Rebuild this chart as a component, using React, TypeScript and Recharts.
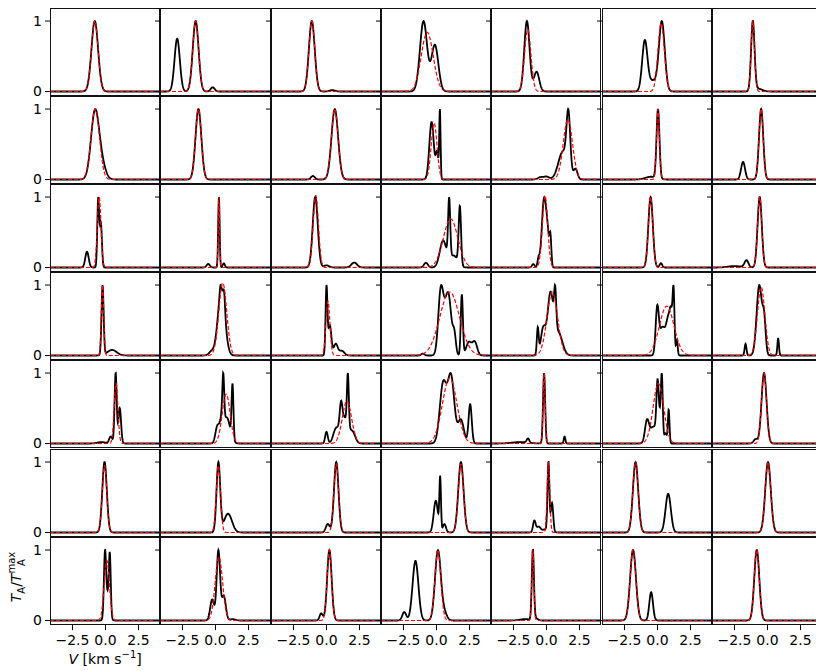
import { LineChart, Line, XAxis, YAxis } from 'recharts'

// [amplitude, centre (km/s), sigma (km/s)]
type Peak = [number, number, number]

// velocity channels shared by every spectrum
const V_MIN = -4.2
const V_MAX = 4.15
const V_STEP = 0.02
const VELOCITY: number[] = Array.from(
  { length: Math.round((V_MAX - V_MIN) / V_STEP) + 1 },
  (_, i) => Number((V_MIN + i * V_STEP).toFixed(3)),
)

const Y_MIN = -0.065
const Y_MAX = 1.185
const X_TICKS = [-2.5, 0, 2.5]
const Y_TICKS = [0, 1]

// observed line components per panel, row by row (left to right)
const ROW1_LINES: Peak[][] = [
  [[1, -0.81, 0.25]],
  [[1, -1.5, 0.22], [0.75, -2.9, 0.2], [0.06, -0.21, 0.15]],
  [[1, -1.11, 0.22], [0.02, 0.44, 0.2]],
  [[1, -0.98, 0.27], [0.66, -0.12, 0.26]],
  [[1, -1.48, 0.2], [0.28, -0.75, 0.2]],
  [[1, 0.33, 0.22], [0.72, -0.96, 0.2], [0.15, -0.35, 0.3]],
  [[1, -1.11, 0.13], [0.04, -0.7, 0.3]],
]
const ROW1_FITS: Peak[] = [
  [1, -0.81, 0.25],
  [1, -1.5, 0.22],
  [1, -1.11, 0.22],
  [0.84, -0.7, 0.45],
  [0.88, -1.42, 0.24],
  [0.97, 0.28, 0.24],
  [1, -1.11, 0.13],
]

const ROW2_LINES: Peak[][] = [
  [[1, -0.8, 0.3], [0.22, -0.3, 0.3]],
  [[1, -1.29, 0.22]],
  [[1, 0.63, 0.25], [0.05, -1.03, 0.15]],
  [[0.85, -0.37, 0.17], [1, 0.26, 0.05], [0.38, 0.05, 0.1]],
  [[1, 1.66, 0.14], [0.5, 1.25, 0.35], [0.18, 2.2, 0.15], [0.04, -0.45, 0.2], [0.05, 0.0, 0.2]],
  [[1, 0.04, 0.11], [0.04, -0.5, 0.4]],
  [[1, -0.48, 0.16], [0.25, -1.85, 0.15]],
]
const ROW2_FITS: Peak[] = [
  [1, -0.77, 0.32],
  [1, -1.29, 0.22],
  [1, 0.63, 0.25],
  [0.8, -0.18, 0.22],
  [0.85, 1.62, 0.35],
  [1, 0.04, 0.11],
  [1, -0.48, 0.16],
]

const ROW3_LINES: Peak[][] = [
  [[1, -0.55, 0.07], [0.65, -0.35, 0.08], [0.23, -1.4, 0.13]],
  [[1, 0.26, 0.055], [0.05, -0.55, 0.12], [0.06, 0.63, 0.08]],
  [[1, -0.85, 0.19], [0.07, 2.1, 0.22], [0.03, 0.0, 0.2]],
  [[1, 0.96, 0.08], [0.98, 1.77, 0.09], [0.45, 0.5, 0.25], [0.08, -0.8, 0.15], [0.2, 1.3, 0.3]],
  [[1, -0.18, 0.17], [0.35, 0.1, 0.12], [0.4, 0.3, 0.07], [0.05, -1.0, 0.1], [0.12, -0.6, 0.08]],
  [[1, -0.52, 0.17], [0.06, 0.26, 0.1]],
  [[1, -0.59, 0.16], [0.1, -1.59, 0.15], [0.02, -2.5, 0.5]],
]
const ROW3_FITS: Peak[] = [
  [1, -0.48, 0.14],
  [1, 0.26, 0.055],
  [1.02, -0.81, 0.2],
  [0.69, 1.07, 0.55],
  [1.02, -0.11, 0.2],
  [1, -0.52, 0.17],
  [1, -0.59, 0.16],
]

const ROW4_LINES: Peak[][] = [
  [[1, -0.22, 0.08], [0.08, 0.5, 0.35]],
  [[0.85, 0.45, 0.27], [0.2, 0.66, 0.07], [0.1, 0.37, 0.06], [0.05, -0.3, 0.2]],
  [[1, 0.0, 0.07], [0.45, 0.25, 0.12], [0.17, 0.7, 0.15], [0.07, 1.15, 0.2]],
  [[0.75, 0.3, 0.18], [0.7, 0.95, 0.2], [0.55, 0.6, 0.25], [0.3, 1.35, 0.12], [0.92, 1.92, 0.08], [0.2, 2.45, 0.2], [0.2, 2.9, 0.18], [0.03, -1.03, 0.12]],
  [[0.5, 0.66, 0.08], [0.8, 0.3, 0.22], [0.3, 0.9, 0.3], [0.35, -0.66, 0.07], [0.35, -0.25, 0.18]],
  [[0.6, -0.02, 0.12], [0.5, 0.85, 0.2], [0.3, 1.05, 0.1], [0.75, 1.22, 0.07], [0.2, 1.47, 0.06], [0.35, 0.35, 0.2]],
  [[0.9, -0.62, 0.2], [0.4, -0.25, 0.12], [0.15, -1.66, 0.07], [0.22, 0.81, 0.06]],
]
const ROW4_FITS: Peak[] = [
  [1, -0.22, 0.09],
  [1.03, 0.55, 0.3],
  [0.77, 0.11, 0.15],
  [0.9, 1.0, 0.75],
  [0.9, 0.44, 0.4],
  [0.7, 0.7, 0.55],
  [0.97, -0.48, 0.28],
]

const ROW5_LINES: Peak[][] = [
  [[1, 0.77, 0.08], [0.5, 1.08, 0.1], [0.1, 0.4, 0.12], [0.02, -0.3, 0.3]],
  [[0.8, 0.59, 0.07], [0.94, 1.29, 0.07], [0.45, 0.85, 0.25], [0.3, 0.15, 0.15], [0.3, 0.45, 0.12]],
  [[0.8, 1.62, 0.07], [0.35, 1.1, 0.1], [0.4, 1.35, 0.3], [0.18, 0.0, 0.1], [0.2, 0.7, 0.2], [0.15, 2.0, 0.2]],
  [[0.75, 0.5, 0.25], [0.85, 1.1, 0.25], [0.3, 1.85, 0.22], [0.5, 2.55, 0.12]],
  [[1, -0.18, 0.08], [0.1, 1.37, 0.06], [0.06, -1.4, 0.1], [0.02, -2.0, 0.6]],
  [[0.3, -0.8, 0.15], [0.6, 0.0, 0.08], [0.85, 0.33, 0.07], [0.5, 0.85, 0.06], [0.25, -0.3, 0.3], [0.35, 0.15, 0.15], [0.15, 0.62, 0.1]],
  [[1, -0.26, 0.19], [0.06, -0.9, 0.15]],
]
const ROW5_FITS: Peak[] = [
  [0.85, 0.8, 0.14],
  [0.7, 0.81, 0.3],
  [0.6, 1.55, 0.35],
  [0.93, 1.0, 0.55],
  [1, -0.18, 0.08],
  [0.85, 0.07, 0.4],
  [1, -0.26, 0.19],
]

const ROW6_LINES: Peak[][] = [
  [[1, -0.07, 0.17]],
  [[1, 0.22, 0.14], [0.27, 0.95, 0.3]],
  [[1, 0.74, 0.17], [0.12, 0.1, 0.15]],
  [[1, 1.85, 0.2], [0.75, 0.28, 0.06], [0.45, -0.05, 0.16], [0.12, 0.6, 0.12]],
  [[1, 0.15, 0.07], [0.42, 0.42, 0.09], [0.17, -0.92, 0.1], [0.08, -0.6, 0.15], [0.05, 0.0, 0.3]],
  [[1, -1.66, 0.2], [0.55, 0.81, 0.2]],
  [[1, 0.04, 0.21]],
]
const ROW6_FITS: Peak[] = [
  [0.95, -0.07, 0.17],
  [0.95, 0.22, 0.16],
  [0.97, 0.74, 0.18],
  [0.97, 1.85, 0.2],
  [1, 0.15, 0.1],
  [1, -1.66, 0.2],
  [1, 0.04, 0.21],
]

const ROW7_LINES: Peak[][] = [
  [[0.95, -0.04, 0.08], [0.9, 0.33, 0.07], [0.4, 0.15, 0.15]],
  [[1, 0.22, 0.13], [0.3, -0.25, 0.15], [0.35, 0.63, 0.15], [0.02, 1.3, 0.2]],
  [[1, 0.22, 0.17], [0.1, -0.4, 0.12]],
  [[1, 0.11, 0.22], [0.85, -1.59, 0.22], [0.12, -2.44, 0.15], [0.1, 0.6, 0.2]],
  [[1, -1.03, 0.08], [0.02, -1.6, 0.4], [0.03, -0.8, 0.15]],
  [[1, -1.85, 0.22], [0.4, -0.48, 0.14]],
  [[1, -0.81, 0.19]],
]
const ROW7_FITS: Peak[] = [
  [0.85, 0.1, 0.2],
  [0.9, 0.26, 0.28],
  [1, 0.22, 0.17],
  [1, 0.11, 0.22],
  [1, -1.03, 0.08],
  [1, -1.85, 0.22],
  [1, -0.81, 0.19],
]

const LINES = [ROW1_LINES, ROW2_LINES, ROW3_LINES, ROW4_LINES, ROW5_LINES, ROW6_LINES, ROW7_LINES]
const FITS = [ROW1_FITS, ROW2_FITS, ROW3_FITS, ROW4_FITS, ROW5_FITS, ROW6_FITS, ROW7_FITS]

// grid geometry (px)
const LEFT = 50
const TOP = 8
const PANEL_W = 110.3
const PANEL_H = 88.1
const AXIS_W = 50
const AXIS_H = 40
const FONT = "'DejaVu Sans', sans-serif"

const gauss = (v: number, [a, c, s]: Peak) => a * Math.exp(-0.5 * ((v - c) / s) ** 2)

function buildPanel(lines: Peak[], fit: Peak) {
  const raw = VELOCITY.map(v => lines.reduce((sum, p) => sum + gauss(v, p), 0))
  const peak = Math.max(...raw)
  return VELOCITY.map((v, i) => ({ v, line: raw[i] / peak, fit: gauss(v, fit) }))
}

const fmtX = (v: number) => v.toFixed(1).replace('-', '\u2212')
const tickStyle = { fontSize: 14, fontFamily: FONT, fill: '#000' }

function Panel({ row, col }: { row: number; col: number }) {
  const data = buildPanel(LINES[row][col], FITS[row][col])
  const bottom = row === LINES.length - 1
  const first = col === 0
  const left = LEFT + col * PANEL_W
  const top = TOP + row * PANEL_H

  // every chart keeps room below the plot so tick labels are never clipped
  return (
    <>
      <div style={{ position: 'absolute', left: left - AXIS_W, top }}>
        <LineChart
          width={PANEL_W + AXIS_W}
          height={PANEL_H + AXIS_H}
          data={data}
          margin={{ top: 0, right: 0, bottom: 0, left: 0 }}
        >
          <XAxis
            dataKey="v"
            type="number"
            domain={[V_MIN, V_MAX]}
            allowDataOverflow
            ticks={X_TICKS}
            interval={0}
            tickFormatter={fmtX}
            height={AXIS_H}
            axisLine={false}
            tickLine={bottom}
            tick={bottom ? tickStyle : false}
            tickSize={5}
            tickMargin={5}
            stroke="#000"
          />
          <YAxis
            type="number"
            domain={[Y_MIN, Y_MAX]}
            allowDataOverflow
            ticks={Y_TICKS}
            interval={0}
            tickFormatter={(v: number) => (first ? String(v) : '')}
            width={AXIS_W}
            axisLine={false}
            tickSize={5}
            tickMargin={3}
            stroke="#000"
            tick={tickStyle}
          />
          <Line
            dataKey="line"
            type="linear"
            stroke="#000"
            strokeWidth={1.8}
            dot={false}
            isAnimationActive={false}
          />
          <Line
            dataKey="fit"
            type="linear"
            stroke="#ff0000"
            strokeWidth={1.2}
            strokeDasharray="4 2"
            dot={false}
            isAnimationActive={false}
          />
        </LineChart>
      </div>
      <div
        style={{
          position: 'absolute',
          left,
          top,
          width: PANEL_W,
          height: PANEL_H,
          border: '1px solid #111',
          boxSizing: 'border-box',
          pointerEvents: 'none',
        }}
      />
    </>
  )
}

export default function App() {
  const cells: { row: number; col: number }[] = []
  LINES.forEach((r, row) => r.forEach((_, col) => cells.push({ row, col })))

  return (
    <div
      style={{
        position: 'absolute',
        left: 0,
        top: 0,
        width: 816,
        height: 671,
        overflow: 'hidden',
        background: '#fff',
        fontFamily: FONT,
        color: '#000',
      }}
    >
      {cells.map(c => (
        <Panel key={`${c.row}-${c.col}`} row={c.row} col={c.col} />
      ))}

      {/* x-axis label under the bottom-left panel */}
      <div
        style={{
          position: 'absolute',
          left: LEFT,
          top: 649,
          width: PANEL_W,
          textAlign: 'center',
          fontSize: 14,
          lineHeight: '20px',
          whiteSpace: 'nowrap',
        }}
      >
        <span style={{ fontStyle: 'italic' }}>V</span> [km s
        <sup style={{ fontSize: 10, lineHeight: 0, verticalAlign: 'super' }}>{'\u22121'}</sup>]
      </div>

      {/* y-axis label beside the bottom-left panel */}
      <div
        style={{
          position: 'absolute',
          left: 15.5 - 60,
          top: 577 - 10,
          width: 120,
          height: 20,
          lineHeight: '20px',
          textAlign: 'center',
          fontSize: 14,
          whiteSpace: 'nowrap',
          transform: 'rotate(-90deg)',
        }}
      >
        <span style={{ fontStyle: 'italic' }}>T</span>
        <sub style={{ fontSize: 10, lineHeight: 0 }}>A</sub>/
        <span style={{ fontStyle: 'italic' }}>T</span>
        <span style={{ display: 'inline-flex', flexDirection: 'column', fontSize: 10, lineHeight: '10px', verticalAlign: 'middle' }}>
          <span>max</span>
          <span>A</span>
        </span>
      </div>
    </div>
  )
}
